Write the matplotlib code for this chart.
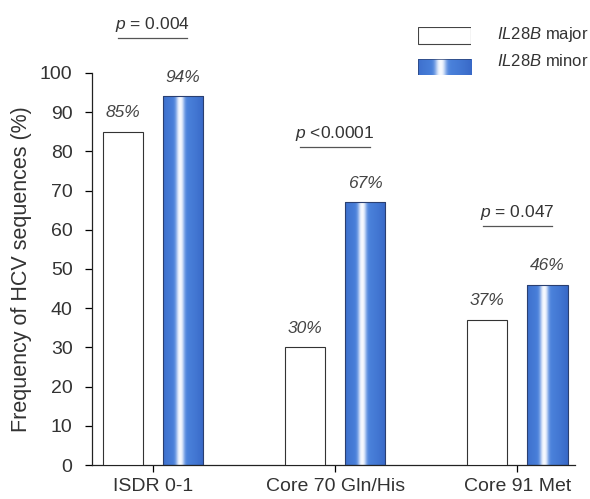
import numpy as np
import matplotlib.pyplot as plt
from matplotlib.patches import Rectangle

plt.rcParams['font.family'] = ['Liberation Sans', 'DejaVu Sans']
plt.rcParams['mathtext.fontset'] = 'custom'
plt.rcParams['mathtext.rm'] = 'Liberation Sans'
plt.rcParams['mathtext.it'] = 'Liberation Sans:italic'

categories = ['ISDR 0-1', 'Core 70 Gln/His', 'Core 91 Met']
major_vals = [85, 30, 37]
minor_vals = [94, 67, 46]
p_labels = [r'$p$ = 0.004', r'$p$ <0.0001', r'$p$ = 0.047']
p_heights = [109, 81, 61]

TXT = '#333333'
BAR_W = 0.22
OFFSET = 0.165


def blue_gradient(n=80):
    # horizontal profile: blue at the edges, soft white highlight left of centre
    t = np.linspace(0, 1, n)
    base = np.array([0.30, 0.52, 0.87])
    dark = np.array([0.22, 0.41, 0.78])
    edge = np.clip(np.abs(t - 0.45) / 0.55, 0, 1)[:, None] ** 1.5
    col = base * (1 - edge) + dark * edge
    w = np.exp(-(np.abs(t - 0.42) / 0.10) ** 2.5)[:, None]
    col = col * (1 - w) + np.array([0.97, 0.98, 1.0]) * w
    return col[None, :, :]


def gradient_bar(ax, x0, width, height):
    rect = Rectangle((x0, 0), width, height, facecolor='none',
                     edgecolor='#2a3f70', linewidth=0.8, zorder=3)
    ax.add_patch(rect)
    im = ax.imshow(blue_gradient(), extent=(x0, x0 + width, 0, height),
                   aspect='auto', zorder=2, interpolation='bicubic')
    im.set_clip_path(rect)


fig = plt.figure(figsize=(5.9, 4.99), dpi=100)
ax = fig.add_axes([0.156, 0.068, 0.819, 0.786])

x = np.arange(len(categories))
for i, xi in enumerate(x):
    ax.bar(xi - OFFSET, major_vals[i], width=BAR_W, color='white',
           edgecolor='#333333', linewidth=0.8, zorder=3)
    gradient_bar(ax, xi + OFFSET - BAR_W / 2, BAR_W, minor_vals[i])

    ax.text(xi - OFFSET, major_vals[i] + 3, f'{major_vals[i]}%', ha='center',
            va='bottom', fontsize=12.5, style='italic', color='#444444')
    ax.text(xi + OFFSET, minor_vals[i] + 3, f'{minor_vals[i]}%', ha='center',
            va='bottom', fontsize=12.5, style='italic', color='#444444')

    # p-value with underline
    ax.text(xi, p_heights[i] + 1, p_labels[i], ha='center', va='bottom',
            fontsize=12.5, color=TXT)
    ax.plot([xi - 0.19, xi + 0.19], [p_heights[i], p_heights[i]],
            color='#555555', lw=0.9, clip_on=False)

ax.set_xlim(-0.333, 2.317)
ax.set_ylim(0, 100)
ax.set_yticks(np.arange(0, 101, 10))
ax.set_xticks(x)
ax.set_xticklabels(categories, fontsize=14, color=TXT)
ax.tick_params(axis='y', labelsize=14, labelcolor=TXT, length=5, width=0.9,
               direction='out', pad=9)
ax.tick_params(axis='x', length=5, width=0.9, direction='out', pad=4)
for s in ['top', 'right']:
    ax.spines[s].set_visible(False)
for s in ['left', 'bottom']:
    ax.spines[s].set_linewidth(0.9)
    ax.spines[s].set_color('#222222')
ax.set_ylabel('Frequency of HCV sequences (%)', fontsize=15.5, color=TXT, labelpad=6)

# legend drawn in figure coordinates
lax = fig.add_axes([0.708, 0.85, 0.09, 0.095])
lax.set_xlim(0, 1)
lax.set_ylim(0, 1)
lax.axis('off')
lax.add_patch(Rectangle((0, 0.66), 1, 0.34, facecolor='white',
                        edgecolor='#444444', linewidth=0.8))
lrect = Rectangle((0, 0.0), 1, 0.34, facecolor='none', edgecolor='#2a3f70',
                  linewidth=0.5)
lax.add_patch(lrect)
lim = lax.imshow(blue_gradient(), extent=(0, 1, 0, 0.34), aspect='auto',
                 interpolation='bicubic')
lim.set_clip_path(lrect)
fig.text(0.842, 0.931, r'$\mathit{IL28B}$ major', fontsize=12, color=TXT,
         va='center', ha='left')
fig.text(0.842, 0.877, r'$\mathit{IL28B}$ minor', fontsize=12, color=TXT,
         va='center', ha='left')

fig.savefig('out.png', dpi=100)
